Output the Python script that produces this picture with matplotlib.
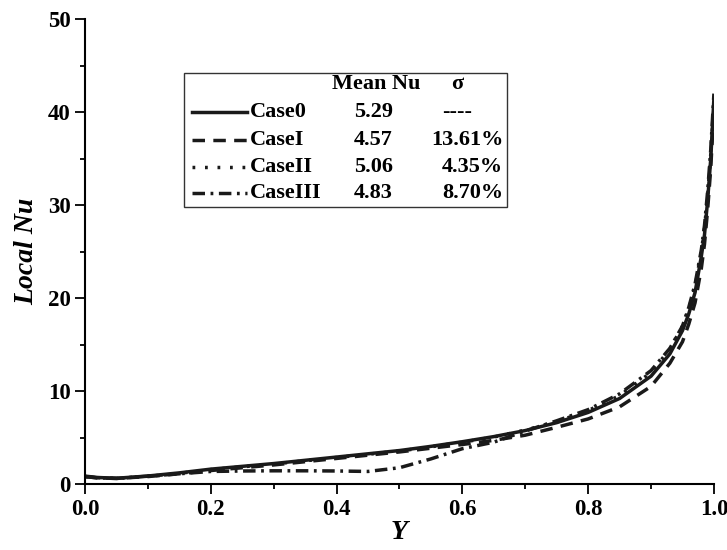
import numpy as np
import matplotlib
matplotlib.use("Agg")
import matplotlib.pyplot as plt
from matplotlib.patches import Rectangle

plt.rcParams['font.family'] = ['Liberation Serif', 'DejaVu Serif']
plt.rcParams['font.weight'] = 'bold'
plt.rcParams['lines.scale_dashes'] = False

# Data
Y = np.array([0.0, 0.02, 0.05, 0.1, 0.15, 0.2, 0.25, 0.3, 0.35, 0.4, 0.45, 0.5,
              0.55, 0.6, 0.65, 0.7, 0.75, 0.8, 0.85, 0.9, 0.93, 0.95, 0.96,
              0.97, 0.98, 0.985, 0.99, 0.995, 1.0])

nu_case0 = [0.85, 0.7, 0.62, 0.86, 1.2, 1.6, 1.9, 2.2, 2.55, 2.9, 3.25, 3.6,
            4.05, 4.55, 5.1, 5.75, 6.6, 7.7, 9.2, 11.6, 14.0, 16.5, 18.3,
            20.6, 24.5, 26.8, 30.5, 35.0, 41.5]
nu_case1 = [0.8, 0.65, 0.6, 0.8, 1.1, 1.45, 1.75, 2.05, 2.4, 2.75, 3.1, 3.45,
            3.85, 4.25, 4.7, 5.25, 6.1, 7.0, 8.3, 10.5, 13.0, 15.3, 17.2,
            19.5, 23.2, 25.8, 29.5, 34.0, 40.5]
nu_case2 = [0.8, 0.68, 0.6, 0.84, 1.15, 1.55, 1.85, 2.15, 2.5, 2.85, 3.2, 3.55,
            4.0, 4.5, 5.05, 5.8, 6.7, 7.9, 9.5, 12.0, 14.5, 17.0, 18.8,
            21.2, 25.0, 27.5, 31.0, 35.5, 41.0]
nu_case3 = [0.8, 0.66, 0.6, 0.84, 1.1, 1.35, 1.4, 1.42, 1.42, 1.4, 1.35, 1.75,
            2.7, 3.8, 4.5, 5.7, 6.8, 8.0, 9.7, 12.2, 14.6, 17.0, 19.0,
            21.5, 25.2, 27.8, 31.5, 36.0, 42.0]

cases = ['Case0', 'CaseI', 'CaseII', 'CaseIII']
mean_nu = ['5.29', '4.57', '5.06', '4.83']
sigma = ['----', '13.61%', '4.35%', '8.70%']

styles = ['-', (0, (9, 6)), (0, (2, 7)), (0, (9, 4, 2, 4))]

fig = plt.figure(figsize=(7.27, 5.5), dpi=100)
ax = fig.add_axes([0.117, 0.12, 0.865, 0.845])

for vals, ls in zip([nu_case0, nu_case1, nu_case2, nu_case3], styles):
    ax.plot(Y, vals, color='#1a1a1a', lw=2.5, linestyle=ls)

ax.set_xlim(0, 1.0)
ax.set_ylim(0, 50)
ax.set_xticks(np.arange(0, 1.01, 0.2))
ax.set_xticks(np.arange(0, 1.01, 0.1), minor=True)
ax.set_yticks(np.arange(0, 51, 10))
ax.set_yticks(np.arange(0, 51, 5), minor=True)
ax.xaxis.set_major_formatter(matplotlib.ticker.FormatStrFormatter('%.1f'))

for s in ['top', 'right']:
    ax.spines[s].set_visible(False)
for s in ['left', 'bottom']:
    ax.spines[s].set_linewidth(1.5)
ax.tick_params(which='major', direction='out', length=7.5, width=1.3,
               labelsize=16.5, pad=3)
ax.tick_params(which='minor', direction='out', length=3.8, width=1.3)

ax.set_xlabel('Y', fontsize=20, style='italic', fontweight='bold', labelpad=0)
ax.set_ylabel('Local Nu', fontsize=20, style='italic', fontweight='bold',
              labelpad=6)

# legend table drawn by hand
tr = ax.transAxes
fs = 16
ax.add_patch(Rectangle((0.157, 0.596), 0.514, 0.289, transform=tr,
                       fill=False, edgecolor='#333333', lw=1.0, clip_on=False))
ax.text(0.463, 0.860, 'Mean Nu', transform=tr, ha='center', va='center',
        fontsize=fs)
ax.text(0.592, 0.860, 'σ', transform=tr, ha='center', va='center',
        fontsize=fs)
rows = [0.8005, 0.740, 0.682, 0.626]
for name, m, sg, ls, ry in zip(cases, mean_nu, sigma, styles, rows):
    ax.plot([0.170, 0.258], [ry, ry], transform=tr, color='#1a1a1a', lw=2.5,
            linestyle=ls, clip_on=False)
    ax.text(0.262, ry, name, transform=tr, ha='left', va='center', fontsize=fs)
    ax.text(0.458, ry, m, transform=tr, ha='center', va='center', fontsize=fs)
    if sg.startswith('-'):
        ax.text(0.592, ry, sg, transform=tr, ha='center', va='center',
                fontsize=fs)
    else:
        ax.text(0.665, ry, sg, transform=tr, ha='right', va='center',
                fontsize=fs)

fig.savefig('out.png', dpi=100)
